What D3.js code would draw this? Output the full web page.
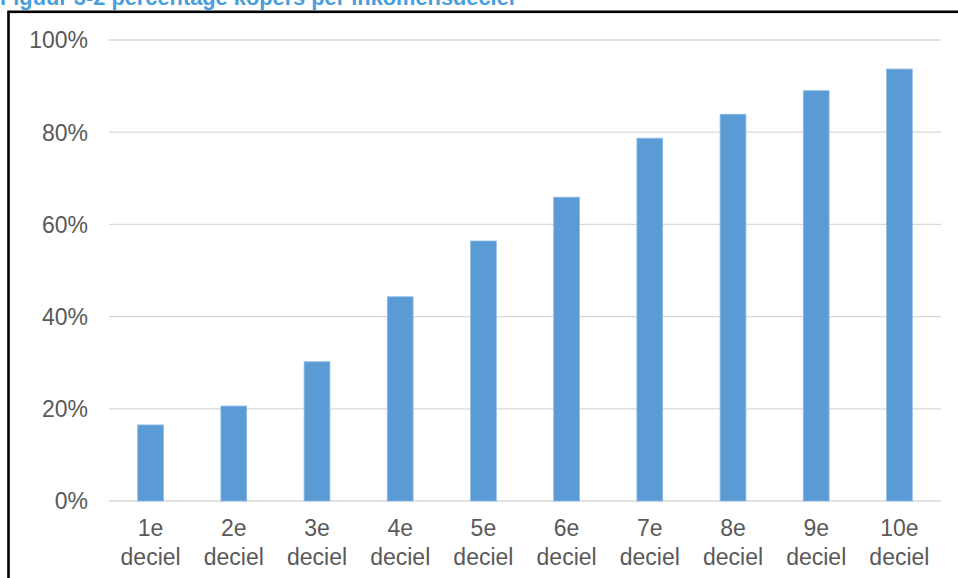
<!DOCTYPE html>
<html><head><meta charset="utf-8">
<script src="https://cdn.jsdelivr.net/npm/d3@7"></script>
<style>body{margin:0;background:#fff}svg{display:block}</style>
</head><body>
<script>
const categories = ["1e deciel","2e deciel","3e deciel","4e deciel","5e deciel","6e deciel","7e deciel","8e deciel","9e deciel","10e deciel"];
const values = [16.5, 20.6, 30.2, 44.3, 56.4, 65.9, 78.7, 83.9, 89.0, 93.7];
const yTicks = [0, 20, 40, 60, 80, 100];
const title = "Figuur 3-2 percentage kopers per inkomensdeciel";

const W = 958, H = 578;
const svg = d3.select("body").append("svg").attr("width", W).attr("height", H);
const font = "Liberation Sans, Arial, sans-serif";

svg.append("text").attr("x", 0).attr("y", 5)
  .attr("font-family", font)
  .attr("font-weight", "bold").attr("font-size", 21.8)
  .attr("fill", "#4a9edb").text(title);

svg.append("rect").attr("x", 8.5).attr("y", 11.8).attr("width", 980).attr("height", 620)
  .attr("fill", "none").attr("stroke", "#000").attr("stroke-width", 2.6);

const x = d3.scaleBand().domain(categories).range([109, 941]).paddingInner(0.69).paddingOuter(0.345);
const y = d3.scaleLinear().domain([0, 100]).range([501, 40]);

// gridlines
svg.append("g").selectAll("line").data(yTicks).join("line")
  .attr("x1", 109).attr("x2", 941)
  .attr("y1", d => y(d)).attr("y2", d => y(d))
  .attr("stroke", "#d9d9d9").attr("stroke-width", 1.3);

// y axis
const yAxis = d3.axisLeft(y).tickValues(yTicks).tickFormat(d => d + "%").tickSize(0).tickPadding(0);
const gy = svg.append("g").attr("transform", "translate(88,0)").call(yAxis);
gy.select(".domain").remove();
gy.selectAll("text").attr("font-family", font).attr("font-size", 23).attr("fill", "#595959").attr("dy", "0.34em");

// bars
svg.append("g").selectAll("rect").data(values).join("rect")
  .attr("x", (d, i) => x(categories[i]))
  .attr("width", x.bandwidth())
  .attr("y", d => y(d))
  .attr("height", d => y(0) - y(d))
  .attr("fill", "#5b9bd5")
  .attr("stroke", "#8ebbe6").attr("stroke-width", 0.8);

// x axis
const xAxis = d3.axisBottom(x).tickSize(0).tickFormat("");
const gx = svg.append("g").attr("transform", "translate(0,501)").call(xAxis);
gx.select(".domain").remove();
gx.selectAll(".tick").each(function(d) {
  const parts = d.split(" ");
  const t = d3.select(this).append("text")
    .attr("font-family", font).attr("font-size", 23).attr("fill", "#595959")
    .attr("text-anchor", "middle");
  t.append("tspan").attr("x", 0).attr("y", 35).text(parts[0]);
  t.append("tspan").attr("x", 0).attr("y", 64).text(parts[1]);
});
</script>
</body></html>
